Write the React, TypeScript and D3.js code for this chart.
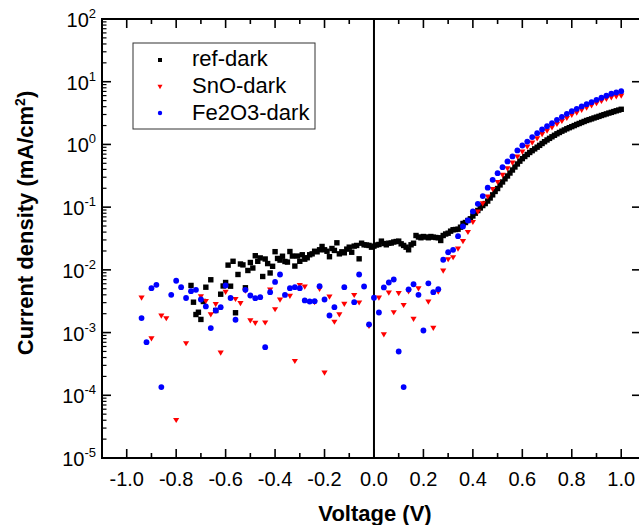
import React from "react";
import * as d3 from "d3";

// [voltage (V), current density (mA/cm^2)]
const refDark: [number, number][] = [
  [-0.74, 5.64e-3], [-0.73, 3.05e-3], [-0.72, 1.94e-3], [-0.71, 2.11e-3], [-0.70, 1.62e-3],
  [-0.69, 3.13e-3], [-0.68, 5.29e-3], [-0.66, 6.95e-3], [-0.64, 2.25e-3], [-0.62, 4.09e-3],
  [-0.61, 5.53e-3], [-0.60, 6.29e-3], [-0.59, 1.19e-2], [-0.58, 5.49e-3], [-0.57, 1.37e-2],
  [-0.56, 2.07e-3], [-0.55, 8.44e-3], [-0.54, 1.24e-2], [-0.53, 1.20e-2], [-0.52, 5.18e-3],
  [-0.51, 9.77e-3], [-0.50, 1.31e-2], [-0.49, 1.07e-2], [-0.48, 1.68e-2], [-0.47, 1.37e-2],
  [-0.46, 1.55e-2], [-0.45, 7.84e-3], [-0.44, 1.49e-2], [-0.43, 1.26e-2], [-0.42, 8.92e-3],
  [-0.41, 1.14e-2], [-0.40, 1.95e-2], [-0.39, 1.52e-2], [-0.38, 1.43e-2], [-0.37, 1.65e-2],
  [-0.36, 1.36e-2], [-0.35, 1.33e-2], [-0.34, 1.96e-2], [-0.33, 1.66e-2], [-0.32, 1.15e-2],
  [-0.31, 1.66e-2], [-0.30, 1.37e-2], [-0.29, 1.74e-2], [-0.28, 1.48e-2], [-0.27, 1.56e-2],
  [-0.26, 1.74e-2], [-0.25, 1.80e-2], [-0.24, 1.98e-2], [-0.23, 1.94e-2], [-0.22, 2.09e-2],
  [-0.21, 2.36e-2], [-0.20, 2.09e-2], [-0.19, 1.98e-2], [-0.18, 1.62e-2], [-0.17, 2.19e-2],
  [-0.16, 2.04e-2], [-0.15, 2.70e-2], [-0.14, 1.80e-2], [-0.13, 1.94e-2], [-0.12, 1.87e-2],
  [-0.11, 2.14e-2], [-0.10, 2.30e-2], [-0.09, 1.91e-2], [-0.08, 2.39e-2], [-0.07, 2.45e-2],
  [-0.06, 1.50e-2], [-0.05, 2.66e-2], [-0.04, 2.51e-2], [-0.03, 2.49e-2], [-0.02, 2.45e-2],
  [-0.01, 2.30e-2],
  [0.00, 2.39e-2], [0.01, 2.49e-2], [0.02, 2.54e-2], [0.03, 2.87e-2], [0.04, 2.63e-2],
  [0.05, 2.51e-2], [0.06, 2.66e-2], [0.07, 2.68e-2], [0.08, 2.78e-2], [0.09, 2.83e-2],
  [0.10, 2.87e-2], [0.11, 2.60e-2], [0.12, 2.45e-2], [0.13, 2.30e-2], [0.14, 2.09e-2],
  [0.15, 2.51e-2], [0.16, 2.66e-2], [0.17, 3.53e-2], [0.18, 3.34e-2], [0.19, 3.25e-2],
  [0.20, 3.40e-2], [0.21, 3.34e-2], [0.22, 3.25e-2], [0.23, 3.40e-2], [0.24, 3.32e-2],
  [0.25, 3.28e-2], [0.26, 3.25e-2], [0.27, 2.94e-2], [0.28, 3.53e-2], [0.29, 3.73e-2],
  [0.30, 3.84e-2], [0.31, 4.14e-2], [0.32, 4.36e-2], [0.33, 4.40e-2], [0.34, 4.45e-2],
  [0.35, 4.79e-2], [0.36, 5.49e-2], [0.37, 5.69e-2], [0.38, 6.13e-2], [0.39, 6.52e-2],
  [0.40, 7.23e-2], [0.41, 8.01e-2], [0.42, 8.84e-2], [0.43, 9.70e-2], [0.44, 0.106],
  [0.45, 0.114], [0.46, 0.125], [0.47, 0.140], [0.48, 0.157], [0.49, 0.178],
  [0.50, 0.198], [0.51, 0.226], [0.52, 0.252], [0.53, 0.283], [0.54, 0.314],
  [0.55, 0.350], [0.56, 0.391], [0.57, 0.437], [0.58, 0.488], [0.59, 0.541],
  [0.60, 0.593], [0.61, 0.642], [0.62, 0.691], [0.63, 0.744], [0.64, 0.795],
  [0.65, 0.849], [0.66, 0.904], [0.67, 0.966], [0.68, 1.035], [0.69, 1.106],
  [0.70, 1.178], [0.71, 1.249], [0.72, 1.324], [0.73, 1.399], [0.74, 1.478],
  [0.75, 1.551], [0.76, 1.627], [0.77, 1.700], [0.78, 1.777], [0.79, 1.850],
  [0.80, 1.920], [0.81, 1.998], [0.82, 2.080], [0.83, 2.158], [0.84, 2.239],
  [0.85, 2.323], [0.86, 2.410], [0.87, 2.482], [0.88, 2.556], [0.89, 2.642],
  [0.90, 2.720], [0.91, 2.801], [0.92, 2.895], [0.93, 2.981], [0.94, 3.070],
  [0.95, 3.162], [0.96, 3.245], [0.97, 3.341], [0.98, 3.441], [0.99, 3.530],
  [1.00, 3.635],
];

const snoDark: [number, number][] = [
  [-0.94, 3.53e-3], [-0.90, 7.96e-4], [-0.86, 1.83e-3], [-0.84, 1.66e-3], [-0.80, 3.96e-5],
  [-0.76, 6.63e-4], [-0.70, 3.72e-3], [-0.68, 3.13e-3], [-0.66, 1.92e-3], [-0.64, 2.78e-3],
  [-0.62, 4.69e-4], [-0.60, 4.36e-3], [-0.56, 3.37e-3], [-0.54, 2.89e-3], [-0.52, 4.57e-3],
  [-0.50, 1.54e-3], [-0.48, 1.40e-3], [-0.44, 1.42e-3], [-0.42, 4.74e-3], [-0.40, 2.31e-3],
  [-0.38, 3.28e-3], [-0.34, 3.79e-3], [-0.32, 3.46e-4], [-0.30, 5.63e-3], [-0.28, 5.29e-3],
  [-0.24, 2.99e-3], [-0.22, 4.87e-3], [-0.20, 2.25e-4], [-0.18, 3.67e-3], [-0.16, 1.46e-3],
  [-0.14, 1.92e-3], [-0.12, 2.81e-3], [-0.08, 3.90e-3], [-0.06, 2.96e-3], [-0.02, 1.25e-3],
  [0.02, 3.53e-3], [0.04, 9.22e-4], [0.06, 4.25e-3], [0.08, 2.07e-3], [0.10, 4.17e-3],
  [0.12, 2.70e-3], [0.14, 4.44e-3], [0.16, 1.62e-3], [0.18, 4.99e-3], [0.22, 3.05e-3],
  [0.24, 1.17e-3], [0.26, 4.41e-3],
  [0.28, 9.53e-3], [0.30, 1.45e-2], [0.32, 1.56e-2], [0.34, 2.14e-2], [0.36, 2.81e-2],
  [0.38, 3.94e-2], [0.40, 5.69e-2], [0.42, 8.32e-2], [0.44, 0.113], [0.46, 0.145],
  [0.48, 0.191], [0.50, 0.247], [0.52, 0.320], [0.54, 0.409], [0.56, 0.502],
  [0.58, 0.627], [0.60, 0.752], [0.62, 0.904], [0.64, 1.05], [0.66, 1.23],
  [0.68, 1.43], [0.70, 1.63], [0.72, 1.84], [0.74, 2.08], [0.76, 2.32],
  [0.78, 2.59], [0.80, 2.90], [0.82, 3.15], [0.84, 3.48], [0.86, 3.78],
  [0.88, 4.13], [0.90, 4.45], [0.92, 4.84], [0.94, 5.21], [0.96, 5.53],
  [0.98, 5.75], [1.00, 5.90],
];

const fe2o3Dark: [number, number][] = [
  [-0.94, 1.70e-3], [-0.92, 7.02e-4], [-0.90, 5.10e-3], [-0.88, 5.78e-3], [-0.86, 1.35e-4],
  [-0.82, 4.00e-3], [-0.80, 6.70e-3], [-0.78, 5.29e-3], [-0.76, 3.56e-3], [-0.74, 4.57e-3],
  [-0.72, 4.81e-3], [-0.70, 3.37e-3], [-0.68, 2.61e-3], [-0.66, 1.18e-3], [-0.64, 2.25e-3],
  [-0.62, 2.54e-3], [-0.60, 5.63e-3], [-0.58, 3.56e-3], [-0.56, 1.60e-3], [-0.52, 4.81e-3],
  [-0.50, 3.90e-3], [-0.48, 3.53e-3], [-0.46, 3.67e-3], [-0.44, 5.85e-4], [-0.42, 4.41e-3],
  [-0.40, 6.41e-3], [-0.38, 8.44e-3], [-0.36, 3.98e-3], [-0.34, 5.10e-3], [-0.32, 5.29e-3],
  [-0.30, 5.10e-3], [-0.28, 3.25e-3], [-0.26, 3.13e-3], [-0.24, 3.17e-3], [-0.22, 5.49e-3],
  [-0.20, 3.37e-3], [-0.18, 1.87e-3], [-0.16, 2.54e-3], [-0.12, 5.29e-3], [-0.08, 3.05e-3],
  [-0.06, 8.44e-3], [-0.04, 5.43e-3], [-0.02, 1.35e-3], [0.00, 3.59e-3], [0.02, 2.09e-3],
  [0.04, 5.24e-3], [0.06, 6.29e-3], [0.08, 7.02e-3], [0.10, 4.99e-4], [0.12, 1.35e-4],
  [0.14, 4.87e-3], [0.16, 5.89e-3], [0.18, 4.00e-3], [0.20, 1.08e-3], [0.22, 6.11e-3],
  [0.24, 4.41e-3], [0.26, 4.92e-3],
  [0.28, 1.45e-2], [0.30, 1.91e-2], [0.32, 2.09e-2], [0.34, 3.44e-2], [0.36, 4.92e-2],
  [0.38, 6.12e-2], [0.40, 8.53e-2], [0.42, 0.113], [0.44, 0.150], [0.46, 0.204],
  [0.48, 0.273], [0.50, 0.348], [0.52, 0.434], [0.54, 0.535], [0.56, 0.643],
  [0.58, 0.802], [0.60, 0.962], [0.62, 1.11], [0.64, 1.31], [0.66, 1.51],
  [0.68, 1.73], [0.70, 1.95], [0.72, 2.18], [0.74, 2.47], [0.76, 2.76],
  [0.78, 3.08], [0.80, 3.39], [0.82, 3.70], [0.84, 4.03], [0.86, 4.38],
  [0.88, 4.72], [0.90, 5.15], [0.92, 5.55], [0.94, 5.97], [0.96, 6.43],
  [0.98, 6.73], [1.00, 7.06],
];

const xMajorTicks = [-1.0, -0.8, -0.6, -0.4, -0.2, 0.0, 0.2, 0.4, 0.6, 0.8, 1.0];
const xMinorTicks = [-1.1, -0.9, -0.7, -0.5, -0.3, -0.1, 0.1, 0.3, 0.5, 0.7, 0.9];
const yExponents = [2, 1, 0, -1, -2, -3, -4, -5];
const seriesNames = ["ref-dark", "SnO-dark", "Fe2O3-dark"];

const FONT = "'Liberation Sans', Arial, Helvetica, sans-serif";
const L = 102, R = 641, T = 19, B = 458;

function Square({ cx, cy, s, color }: any) {
  return <rect x={cx - s / 2} y={cy - s / 2} width={s} height={s} fill={color} />;
}
function TriDown({ cx, cy, w, h, color }: any) {
  return (
    <path
      d={`M${cx - w / 2},${cy - h / 2}L${cx + w / 2},${cy - h / 2}L${cx},${cy + h / 2}Z`}
      fill={color}
    />
  );
}
function Dot({ cx, cy, r, color }: any) {
  return <circle cx={cx} cy={cy} r={r} fill={color} />;
}

export default function App() {
  const x = d3.scaleLinear().domain([-1.1, 1.08]).range([L, R]);
  const y = d3.scaleLog().domain([1e-5, 1e2]).range([B, T]);

  const yMinor: number[] = [];
  y.ticks().forEach((t) => {
    const m = Math.round(t / Math.pow(10, Math.floor(Math.log10(t) + 1e-9)));
    if (m !== 1) yMinor.push(t);
  });

  return (
    <svg
      width={639}
      height={525}
      style={{ position: "absolute", left: 0, top: 0, background: "#fff" }}
      fontFamily={FONT}
    >
      <rect x={0} y={0} width={639} height={525} fill="#fff" />

      {/* zero line */}
      <line x1={x(0)} x2={x(0)} y1={T} y2={B} stroke="#000" strokeWidth={2} />

      {/* data */}
      {refDark.map(([v, j], i) => (
        <Square key={"r" + i} cx={x(v)} cy={y(j)} s={5.4} color="#000" />
      ))}
      {snoDark.map(([v, j], i) => (
        <TriDown key={"s" + i} cx={x(v)} cy={y(j)} w={6.2} h={5.2} color="#ff0000" />
      ))}
      {fe2o3Dark.map(([v, j], i) => (
        <Dot key={"f" + i} cx={x(v)} cy={y(j)} r={2.9} color="#0000ff" />
      ))}

      {/* frame */}
      <rect x={L} y={T} width={R - L} height={B - T} fill="none" stroke="#000" strokeWidth={2} />

      {/* x ticks bottom and top */}
      {xMajorTicks.map((t) => (
        <g key={"xm" + t}>
          <line x1={x(t)} x2={x(t)} y1={B} y2={B - 9} stroke="#000" strokeWidth={1.6} />
          <line x1={x(t)} x2={x(t)} y1={T} y2={T + 9} stroke="#000" strokeWidth={1.6} />
          <text x={x(t)} y={B + 28} textAnchor="middle" fontSize={20} fill="#000">
            {t.toFixed(1)}
          </text>
        </g>
      ))}
      {xMinorTicks.map((t) => (
        <g key={"xn" + t}>
          <line x1={x(t)} x2={x(t)} y1={B} y2={B - 5} stroke="#000" strokeWidth={1.6} />
          <line x1={x(t)} x2={x(t)} y1={T} y2={T + 5} stroke="#000" strokeWidth={1.6} />
        </g>
      ))}

      {/* y ticks */}
      {yExponents.map((e) => {
        const yy = y(Math.pow(10, e));
        return (
          <g key={"ye" + e}>
            <line x1={L} x2={L + 9} y1={yy} y2={yy} stroke="#000" strokeWidth={1.6} />
            <line x1={R} x2={R - 9} y1={yy} y2={yy} stroke="#000" strokeWidth={1.6} />
            <text x={96} y={yy + 8} textAnchor="end" fontSize={20} fill="#000">
              10
              <tspan dy={-9} fontSize={13}>
                {String(e)}
              </tspan>
            </text>
          </g>
        );
      })}
      {yMinor.map((t, i) => (
        <line key={"yn" + i} x1={L} x2={L + 4.5} y1={y(t)} y2={y(t)} stroke="#000" strokeWidth={1.2} />
      ))}

      {/* axis titles */}
      <text x={375} y={521} textAnchor="middle" fontSize={22} fontWeight="bold" fill="#000">
        Voltage (V)
      </text>
      <text
        transform={`translate(33,223) rotate(-90)`}
        textAnchor="middle"
        fontSize={22}
        fontWeight="bold"
        fill="#000"
      >
        Current density (mA/cm
        <tspan dy={-8} fontSize={14}>2</tspan>
        <tspan dy={8}>)</tspan>
      </text>

      {/* legend */}
      <rect x={133} y={43} width={182} height={86} fill="#fff" stroke="#333" strokeWidth={1} />
      <Square cx={160} cy={60} s={4} color="#000" />
      <TriDown cx={160} cy={87} w={5} h={4.5} color="#ff0000" />
      <Dot cx={160} cy={113} r={2.2} color="#0000ff" />
      {seriesNames.map((n, i) => (
        <text key={n} x={192} y={66 + i * 27} fontSize={22} fill="#000">
          {n}
        </text>
      ))}
    </svg>
  );
}
